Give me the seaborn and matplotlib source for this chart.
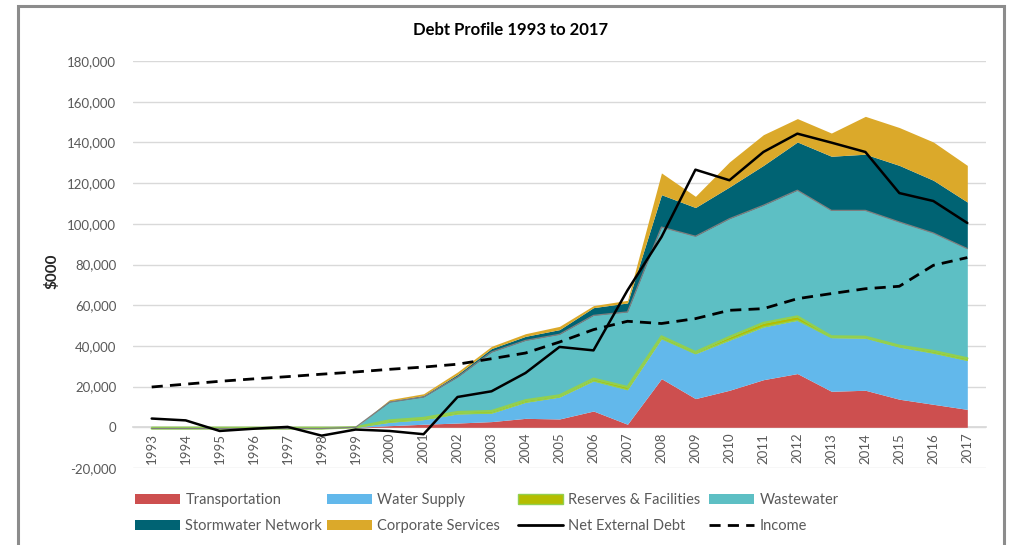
import numpy as np
import pandas as pd
import seaborn as sns
import matplotlib.pyplot as plt
from matplotlib.patches import Patch, Rectangle
from matplotlib.lines import Line2D
from matplotlib.ticker import FuncFormatter

# dados ($000)
anos = [str(a) for a in range(1993, 2018)]

transportation = [0, 0, 0, 0, 0, 0, 0, 800, 1500, 2100, 2800, 4400, 4100, 8000, 1500,
                  23900, 14100, 18200, 23400, 26400, 17700, 18200, 13800, 11300, 8800]
water_supply = [0, 0, 0, 0, 0, 0, 0, 1700, 2300, 4500, 4200, 7900, 10800, 14800, 17000,
                19700, 22100, 24600, 25900, 26200, 26400, 25700, 25700, 25200, 24100]
reserves = [-600, -600, -600, -600, -600, -600, 0, 900, 800, 900, 1000, 1000, 800, 1100, 1300,
            1100, 800, 1600, 2000, 1900, 600, 600, 600, 1000, 1000]
wastewater = [0, 0, 0, 0, 0, 0, 0, 9000, 10300, 17200, 29000, 29400, 30000, 31100, 36900,
              53700, 56900, 58100, 57800, 62000, 61900, 62100, 60800, 58000, 53900]
stormwater = [0, 0, 0, 0, 0, 0, 0, 500, 700, 1300, 1700, 2000, 2300, 3800, 4400,
              15900, 14100, 15600, 19600, 23700, 26600, 27600, 27800, 25900, 22900]
corporate = [0, 0, 0, 0, 0, 0, 0, 700, 900, 1200, 1100, 1300, 1600, 1000, 1300,
             10700, 5500, 12300, 15100, 11500, 11400, 18600, 18600, 18800, 18000]

net_debt = [4300, 3400, -1800, -700, 200, -4100, -1100, -1800, -3400, 14900, 17700,
            26700, 39500, 37800, 67300, 93500, 126600, 121400, 135300, 144300, 139900,
            135300, 115100, 111200, 100400]
income = [19800, 21200, 22600, 23800, 24900, 26100, 27200, 28500, 29600, 31000, 33700,
          36500, 41900, 48000, 52100, 51000, 53400, 57500, 58300, 63200, 65700, 68100,
          69300, 79600, 83400]

cores = {
    "Transportation": "#CD4F4F",
    "Water Supply": "#62B8EB",
    "Reserves & Facilities": "#B5BD00",
    "Wastewater": "#5DBFC4",
    "Stormwater Network": "#006373",
    "Corporate Services": "#DBA92A",
}
cinza = "#595959"

sns.set_theme(style="white")
plt.rcParams["font.family"] = ["Lato", "DejaVu Sans"]

x = np.arange(len(anos))
df = pd.DataFrame({"x": x, "Net External Debt": net_debt, "Income": income})

fig = plt.figure(figsize=(10.11, 5.45), dpi=100)
ax = fig.add_axes([133 / 1011, 1 - 468 / 545, (986 - 133) / 1011, (468 - 61) / 545])

series = [transportation, water_supply, reserves, wastewater, stormwater, corporate]
ax.stackplot(x, series, colors=list(cores.values()), linewidth=0, zorder=2)

# contornos finos no topo de algumas camadas
acum = np.cumsum(np.array(series), axis=0)
ax.plot(x, acum[1], color="#92D050", lw=1.0, zorder=3)
ax.plot(x, acum[2], color="#92D050", lw=1.6, zorder=3)
ax.plot(x, acum[3], color="#7F7F7F", lw=0.9, zorder=3)

sns.lineplot(data=df, x="x", y="Net External Debt", color="black", lw=1.8, ax=ax, zorder=4)
sns.lineplot(data=df, x="x", y="Income", color="black", lw=2.0, ax=ax, zorder=4,
             dashes=False, linestyle=(0, (4, 2.6)))

for s in ["top", "right", "left"]:
    ax.spines[s].set_visible(False)
ax.spines["bottom"].set_position(("data", 0))
ax.spines["bottom"].set_color("#D9D9D9")
ax.spines["bottom"].set_zorder(1)

ax.set_xlim(-0.55, len(anos) - 0.45)
ax.set_ylim(-20000, 180000)
ax.set_yticks(np.arange(-20000, 180001, 20000))
ax.yaxis.set_major_formatter(FuncFormatter(lambda v, p: f"{v:,.0f}"))
ax.grid(axis="y", color="#D9D9D9", lw=1.0, zorder=0)
ax.grid(axis="x", visible=False)

ax.set_xticks(x)
ax.set_xticklabels(anos)
ax.tick_params(axis="x", length=0, pad=4, labelsize=9.5, labelcolor=cinza, labelrotation=90)
ax.tick_params(axis="y", length=0, pad=12, labelsize=9.5, labelcolor=cinza)
ax.set_xlabel("")
ax.set_ylabel("")

fig.text(52 / 1011, 1 - 271 / 545, "$000", rotation=90, ha="center", va="center",
         fontsize=11, fontweight="bold", color="#262626")
fig.text(511 / 1011, 1 - 30 / 545, "Debt Profile 1993 to 2017", ha="center", va="center",
         fontsize=12, fontweight="bold", color="black")

# legenda: uma coluna de cada vez para acertar as posições
h = {k: Patch(facecolor=c, edgecolor="none") for k, c in cores.items()}
h["Reserves & Facilities"] = Patch(facecolor=cores["Reserves & Facilities"], edgecolor="#92D050")
h["Net External Debt"] = Line2D([], [], color="black", lw=2)
h["Income"] = Line2D([], [], color="black", lw=2, linestyle=(0, (4, 2.6)))
colunas = [["Transportation", "Stormwater Network"],
           ["Water Supply", "Corporate Services"],
           ["Reserves & Facilities", "Net External Debt"],
           ["Wastewater", "Income"]]
x_col = [135, 327, 518, 709]
for nomes, xc in zip(colunas, x_col):
    leg = fig.legend([h[k] for k in nomes], nomes, loc="upper left",
                     bbox_to_anchor=(xc / 1011, 1 - 493 / 545), frameon=False,
                     fontsize=10.5, handlelength=3.1, handleheight=0.7, handletextpad=0.35,
                     labelspacing=0.82, borderpad=0, borderaxespad=0)
    for t in leg.get_texts():
        t.set_color(cinza)

# moldura do gráfico
fig.patches.append(Rectangle((18 / 1011, -0.1), (1004 - 18) / 1011, 1.1 - 6 / 545,
                             transform=fig.transFigure, fill=False,
                             edgecolor="#8C8C8C", lw=2.2))

fig.savefig("out.png", dpi=100)
